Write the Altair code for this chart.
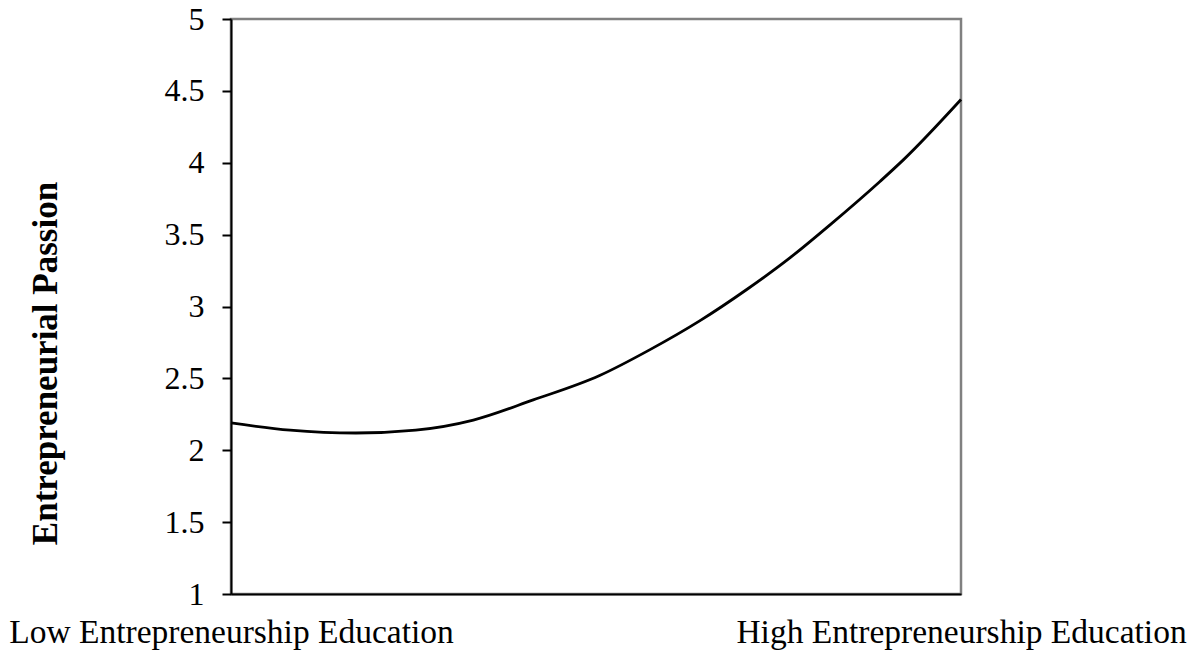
import altair as alt
import pandas as pd

# Data
x_pos = [0, 8.1, 17.1, 25.3, 33.2, 41.4, 50.5, 57.4, 64.2, 70.7, 76.6, 82.1, 88.9, 92.1, 100]
passion = [2.19, 2.14, 2.12, 2.14, 2.21, 2.35, 2.52, 2.70, 2.90, 3.12, 3.34, 3.57, 3.87, 4.02, 4.44]
x_labels = ["Low Entrepreneurship Education", "High Entrepreneurship Education"]
y_ticks = [1, 1.5, 2, 2.5, 3, 3.5, 4, 4.5, 5]
y_title = "Entrepreneurial Passion"

df = pd.DataFrame({"x": x_pos, "y": passion})

FONT = "Liberation Serif"

label_expr = f"datum.value == 0 ? '{x_labels[0]}' : '{x_labels[1]}'"

chart = alt.Chart(df).mark_line(color="black", strokeWidth=2.8, interpolate="monotone").encode(
    x=alt.X("x:Q", scale=alt.Scale(domain=[0, 100], nice=False, zero=False),
            axis=alt.Axis(values=[0, 100], labelExpr=label_expr, title=None,
                          ticks=False, grid=False, domainColor="black", domainWidth=2,
                          labelFont=FONT, labelFontSize=33.5, labelColor="black",
                          labelPadding=22, labelFlush=False, labelOverlap=False,
                          labelBound=False, labelLimit=800)),
    y=alt.Y("y:Q", scale=alt.Scale(domain=[1, 5], nice=False, zero=False),
            axis=alt.Axis(values=y_ticks, format="~g", title=y_title,
                          grid=False, domainColor="black", domainWidth=2,
                          tickColor="black", tickWidth=2, tickSize=9,
                          labelFont=FONT, labelFontSize=32, labelColor="black",
                          labelPadding=18, labelOverlap=False, labelLimit=200,
                          titleFont=FONT, titleFontSize=35, titleFontWeight="bold",
                          titleColor="black", titleAngle=-90, titleX=-186, titleY=344,
                          titleAlign="center", titleBaseline="middle", titleLimit=800)),
).properties(
    width=730, height=575,
    background="white",
    autosize=alt.AutoSizeParams(type="none"),
    padding={"left": 223, "top": 11, "right": 229, "bottom": 56},
).configure_view(
    stroke="#808080", strokeWidth=2.5
)

chart.save("out.html", embed_options={"renderer": "svg", "actions": False})
